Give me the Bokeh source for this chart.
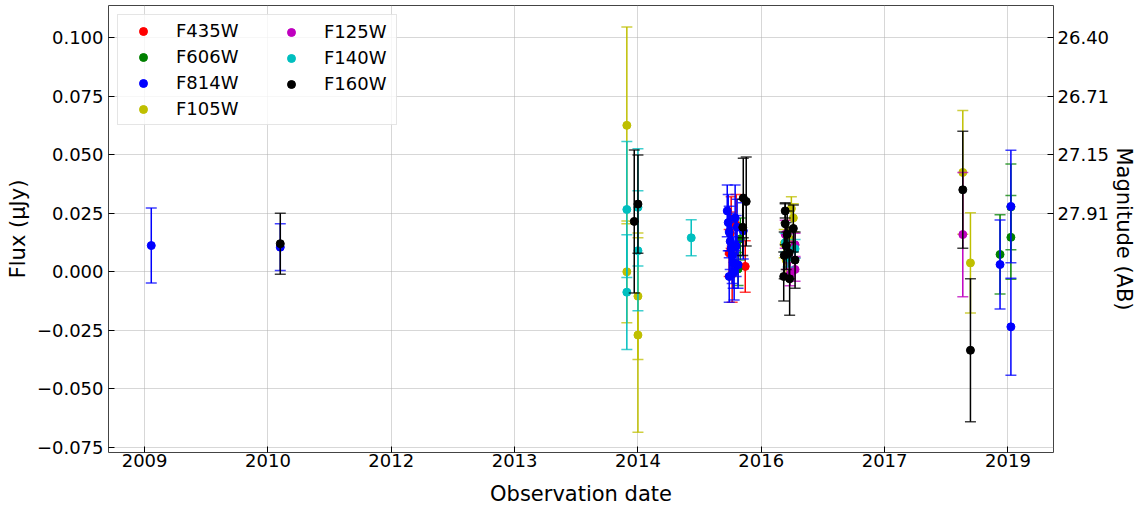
from bokeh.plotting import figure
from bokeh.models import ColumnDataSource, Range1d, LinearAxis, FixedTicker, Legend, LegendItem
from bokeh.embed import file_html
from bokeh.resources import INLINE

# ---------------- data (x = MJD, flux in microJy) ----------------
filters = ["F435W", "F606W", "F814W", "F105W", "F125W", "F140W", "F160W"]
colors = ["#ff0000", "#008000", "#0000ff", "#bfbf00", "#bf00bf", "#00bfbf", "#000000"]

f435w_mjd = [57374, 57378, 57370, 57382, 57398, 57435]
f435w_flux = [0.0165, 0.021, 0.008, -0.001, 0.020, 0.0023]
f435w_err = [0.009, 0.011, 0.010, 0.012, 0.013, 0.011]

f606w_mjd = [57406, 57415, 58468, 58512, 58512]
f606w_flux = [0.0012, 0.014, 0.0074, 0.0277, 0.0147]
f606w_err = [0.007, 0.009, 0.0169, 0.0183, 0.0179]

f814w_mjd = [55027, 55550, 57362, 57366, 57370, 57374, 57378, 57382, 57386, 57390,
             57370, 57398, 57402, 57394, 57427, 57406, 58468, 58512, 58512]
f814w_flux = [0.0112, 0.0105, 0.026, 0.021, 0.017, 0.013, 0.010, 0.007, 0.004, 0.000,
              -0.002, 0.011, 0.019, 0.023, 0.0175, 0.003, 0.0031, 0.0279, -0.0235]
f814w_err = [0.016, 0.010, 0.011, 0.012, 0.011, 0.012, 0.011, 0.012, 0.011, 0.012,
             0.011, 0.013, 0.012, 0.014, 0.012, 0.010, 0.019, 0.024, 0.0207]

f105w_mjd = [56955, 56955, 57000, 57000, 57622, 57630, 57593, 57601, 57613, 58317, 58348]
f105w_flux = [0.0625, 0.0, -0.0104, -0.027, 0.027, 0.023, 0.012, 0.005, 0.014, 0.0424, 0.0038]
f105w_err = [0.042, 0.0217, 0.027, 0.0415, 0.005, 0.006, 0.006, 0.006, 0.005, 0.0264, 0.0214]

f125w_mjd = [57597, 57637, 57637, 57605, 57617, 58317]
f125w_flux = [0.016, 0.0115, 0.001, 0.007, -0.001, 0.0159]
f125w_err = [0.006, 0.005, 0.005, 0.006, 0.005, 0.0265]

f140w_mjd = [56955, 56955, 57000, 57000, 57216, 57597, 57637, 57609]
f140w_flux = [0.0266, -0.0087, 0.0275, 0.009, 0.0145, 0.0125, 0.0098, 0.006]
f140w_err = [0.029, 0.0245, 0.025, 0.0256, 0.0077, 0.004, 0.004, 0.004]

f160w_mjd = [55550, 56985, 57000, 57427, 57439, 57425, 57597, 57605, 57630, 57601,
             57593, 57613, 57591, 57615, 57637, 57597, 58317, 58348]
f160w_flux = [0.012, 0.0215, 0.0289, 0.0315, 0.030, 0.019, 0.0205, 0.016, 0.0185, 0.011,
              0.007, 0.008, -0.002, -0.003, 0.005, 0.026, 0.035, -0.0335]
f160w_err = [0.013, 0.0305, 0.021, 0.017, 0.019, 0.012, 0.009, 0.010, 0.010, 0.010,
             0.010, 0.011, 0.0105, 0.0155, 0.012, 0.003, 0.025, 0.0305]

xtick_mjd = [55000, 55500, 56000, 56500, 57000, 57500, 58000, 58500]
xtick_labels = ["2009", "2010", "2012", "2013", "2014", "2016", "2017", "2019"]
ytick_flux = [-0.075, -0.05, -0.025, 0.0, 0.025, 0.05, 0.075, 0.1]
ytick_labels = ["\u22120.075", "\u22120.050", "\u22120.025", "0.000", "0.025", "0.050", "0.075", "0.100"]
mag_tick_flux = [0.1, 0.075, 0.05, 0.025]
mag_tick_labels = ["26.40", "26.71", "27.15", "27.91"]

series = [
    (f435w_mjd, f435w_flux, f435w_err),
    (f606w_mjd, f606w_flux, f606w_err),
    (f814w_mjd, f814w_flux, f814w_err),
    (f105w_mjd, f105w_flux, f105w_err),
    (f125w_mjd, f125w_flux, f125w_err),
    (f140w_mjd, f140w_flux, f140w_err),
    (f160w_mjd, f160w_flux, f160w_err),
]

FONT = "DejaVu Sans"
FRAME_W, FRAME_H = 945, 447

p = figure(frame_width=FRAME_W, frame_height=FRAME_H, output_backend="svg", toolbar_location=None,
           x_range=Range1d(54853.6, 58684.7), y_range=Range1d(-0.07713, 0.11366),
           min_border_left=108, min_border_right=89, min_border_top=5, min_border_bottom=59)
p.background_fill_color = "white"
p.outline_line_color = "#444444"
p.outline_line_width = 1

items = []
for name, col, (xs, ys, es) in zip(filters, colors, series):
    src = ColumnDataSource(dict(x=xs, y=ys,
                                lo=[y - e for y, e in zip(ys, es)],
                                hi=[y + e for y, e in zip(ys, es)]))
    p.segment(x0="x", y0="lo", x1="x", y1="hi", source=src, line_color=col, line_width=1.5)
    p.scatter(x="x", y="lo", source=src, marker="dash", size=11, line_color=col,
              line_width=1.5, line_alpha=0.75)
    p.scatter(x="x", y="hi", source=src, marker="dash", size=11, line_color=col,
              line_width=1.5, line_alpha=0.75)
    r = p.scatter(x="x", y="y", source=src, marker="circle", size=8,
                  fill_color=col, line_color=col)
    items.append(LegendItem(label=name, renderers=[r]))

# axes
xa = p.xaxis[0]
xa.ticker = FixedTicker(ticks=xtick_mjd)
xa.major_label_overrides = {t: l for t, l in zip(xtick_mjd, xtick_labels)}
xa.axis_label = "Observation date"

ya = p.yaxis[0]
ya.ticker = FixedTicker(ticks=ytick_flux)
ya.major_label_overrides = {t: l for t, l in zip(ytick_flux, ytick_labels)}
ya.axis_label = "Flux (\u03bcJy)"

ra = LinearAxis(ticker=FixedTicker(ticks=mag_tick_flux),
                major_label_overrides={t: l for t, l in zip(mag_tick_flux, mag_tick_labels)},
                axis_label="Magnitude (AB)")
p.add_layout(ra, "right")

for ax in [xa, ya, ra]:
    ax.axis_line_color = None
    ax.major_tick_in = 6
    ax.major_tick_out = 0
    ax.major_tick_line_color = "black"
    ax.minor_tick_line_color = None
    ax.major_label_text_font = FONT
    ax.major_label_text_font_size = "18px"
    ax.major_label_text_color = "black"
    ax.axis_label_text_font = FONT
    ax.axis_label_text_font_size = "21px"
    ax.axis_label_text_font_style = "normal"
    ax.axis_label_text_color = "black"

xa.major_label_standoff = 1
xa.axis_label_standoff = 12
ya.major_label_standoff = 5
ya.axis_label_standoff = 4
ra.major_label_standoff = 4
ra.axis_label_standoff = 0

p.xgrid.ticker = FixedTicker(ticks=xtick_mjd)
p.ygrid.ticker = FixedTicker(ticks=ytick_flux)
for g in [p.xgrid[0], p.ygrid[0]]:
    g.grid_line_color = "#b0b0b0"
    g.grid_line_alpha = 0.5
    g.grid_line_width = 1

def style_legend(lg):
    lg.padding = 5
    lg.spacing = 5
    lg.glyph_width = 40
    lg.glyph_height = 20
    lg.label_standoff = 13
    lg.label_height = 20
    lg.label_text_font = FONT
    lg.label_text_font_size = "18px"
    lg.label_text_color = "black"

legend1 = Legend(items=items[:4], location="top_left")
style_legend(legend1)
legend1.margin = 9
legend1.label_width = 215
legend1.border_line_color = "#cccccc"
legend1.background_fill_alpha = 0.8
p.add_layout(legend1)

legend2 = Legend(items=items[4:], location=(163, FRAME_H - 9 - 80))
style_legend(legend2)
legend2.margin = 0
legend2.border_line_color = None
legend2.background_fill_alpha = 0.0
p.add_layout(legend2)

open("out.html", "w").write(file_html(p, INLINE))
